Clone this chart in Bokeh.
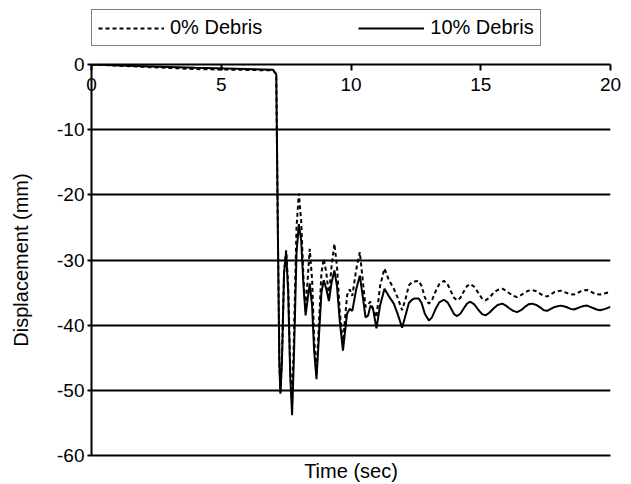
from bokeh.plotting import figure
from bokeh.layouts import column
from bokeh.models import (LinearAxis, Legend, LegendItem, Range1d, FixedTicker,
                          CustomJSTickFormatter)
from bokeh.embed import file_html
from bokeh.resources import INLINE

# ---- data ----
x_ticks = [0, 5, 10, 15, 20]
y_ticks = [0, -10, -20, -30, -40, -50, -60]

t = [0, 2, 4, 7.0, 7.12, 7.18, 7.24, 7.28, 7.34, 7.42, 7.50, 7.58, 7.66, 7.73,
     7.80, 7.90, 7.99, 8.08, 8.17, 8.25, 8.33, 8.41, 8.50, 8.58, 8.67, 8.76,
     8.86, 8.95, 9.05, 9.15, 9.25, 9.36, 9.46, 9.57, 9.69, 9.77, 9.85, 9.95,
     10.05, 10.20, 10.34, 10.45, 10.56, 10.66, 10.75, 10.85, 10.98, 11.12,
     11.29, 11.45, 11.65, 11.80, 11.97,
     12.10, 12.23, 12.35, 12.45, 12.61, 12.72, 12.85, 13.0, 13.12, 13.25, 13.4,
     13.58, 13.72, 13.85, 13.97, 14.09, 14.22, 14.35, 14.47, 14.6, 14.75, 14.9,
     15.05, 15.18, 15.33, 15.5, 15.65, 15.83, 15.97, 16.1, 16.25, 16.4, 16.55,
     16.7, 16.84, 16.98, 17.14, 17.3, 17.43, 17.56, 17.7, 17.85, 18.07, 18.2,
     18.35, 18.47, 18.59, 18.72, 18.85, 18.97, 19.1, 19.22, 19.35, 19.47, 19.6,
     19.8, 20.0]

debris_0 = [0, -0.35, -0.7, -0.9, -1.5, -25, -46, -50.3, -45, -32, -28.5, -34,
            -47, -52, -42, -25, -19.8, -24, -33, -37.5, -33, -28.3, -33, -42,
            -47.5, -40, -32, -29.8, -32, -35.5, -31, -27.5, -31, -38, -43, -39,
            -35.4, -34.5, -35.5, -31.5, -28.8, -33, -37.2, -36.8, -36.4, -37.5,
            -38.8, -34, -31.3, -33, -34.4, -35.8, -37.7,
            -36.0, -33.9, -33.4, -33.3, -33.2, -34.0, -35.8, -36.7, -36.2, -34.9,
            -33.7, -33.2, -33.7, -34.8, -35.8, -36.2, -35.8, -34.8, -34.0, -33.7,
            -34.1, -35.0, -35.9, -36.2, -35.8, -35.0, -34.6, -34.4, -34.7, -35.1,
            -35.5, -35.7, -35.4, -35.0, -34.7, -34.6, -34.8, -35.2, -35.5, -35.6,
            -35.3, -34.9, -34.7, -34.9, -35.1, -35.25, -35.3, -35.1, -34.8,
            -34.65, -34.6, -34.8, -35.1, -35.25, -35.3, -35.1, -34.9]

debris_10 = [0, -0.25, -0.5, -0.8, -1.5, -25, -46, -50.5, -45.5, -32, -28.8,
             -35, -48, -53.8, -45, -29, -24.5, -27, -34, -38.5, -36, -33.6, -37,
             -44, -48.3, -42, -35, -33.1, -34.5, -36.3, -33.5, -31.6, -34,
             -39.5, -43.9, -41, -38.2, -37.5, -37.8, -34.5, -32.4, -35.5, -38.8,
             -38.5, -37, -37.5, -40.5, -37, -34.4, -35.5, -36.7, -38.3, -40.4,
             -38.5, -36.6, -36.1, -35.9, -35.9, -36.6, -38.3, -39.3, -38.8, -37.6,
             -36.5, -36.1, -36.5, -37.4, -38.3, -38.6, -38.2, -37.4, -36.7, -36.4,
             -36.8, -37.6, -38.3, -38.5, -38.1, -37.4, -36.9, -36.7, -37.0, -37.4,
             -37.8, -38.0, -37.7, -37.2, -36.8, -36.7, -36.9, -37.3, -37.7, -37.8,
             -37.5, -37.2, -37.0, -37.1, -37.3, -37.5, -37.6, -37.4, -37.2,
             -37.05, -37.0, -37.2, -37.4, -37.6, -37.7, -37.5, -37.2]

series_labels = ["0% Debris", "10% Debris"]

FONT = "Liberation Sans"
DASH = "4 3"

# ---------------- main chart ----------------
p = figure(width=631, height=432, output_backend="svg", toolbar_location=None,
           x_range=Range1d(0, 20), y_range=Range1d(-60, 0),
           x_axis_location=None, y_axis_location="left",
           min_border_left=91, min_border_right=21, min_border_top=12,
           min_border_bottom=29, outline_line_color=None,
           background_fill_color="white", border_fill_color="white")

p.xgrid.visible = False
p.ygrid.ticker = FixedTicker(ticks=y_ticks[1:])
p.ygrid.grid_line_color = "black"
p.ygrid.grid_line_width = 2

plain = CustomJSTickFormatter(code="return tick.toString()")

ya = p.yaxis[0]
ya.ticker = FixedTicker(ticks=y_ticks)
ya.formatter = plain
ya.axis_line_width = 2
ya.major_tick_line_width = 2
ya.major_tick_out = 4
ya.major_tick_in = 0
ya.minor_tick_out = 0
ya.minor_tick_in = 0
ya.major_label_text_font = FONT
ya.major_label_text_font_size = "19px"
ya.major_label_text_color = "black"
ya.major_label_standoff = 3
ya.axis_label = "Displacement (mm)"
ya.axis_label_text_font = FONT
ya.axis_label_text_font_style = "normal"
ya.axis_label_text_font_size = "20px"
ya.axis_label_text_color = "black"
ya.axis_label_standoff = 22

# top axis at y = 0, ticks pointing down, labels just below the line
top = LinearAxis(ticker=FixedTicker(ticks=x_ticks), formatter=plain)
top.axis_line_width = 2
top.major_tick_line_width = 2
top.major_tick_in = 6
top.major_tick_out = 0
top.minor_tick_in = 0
top.minor_tick_out = 0
top.major_label_text_font = FONT
top.major_label_text_font_size = "19px"
top.major_label_text_color = "black"
top.major_label_standoff = -26
p.add_layout(top, "above")

# bottom axis: line at -60 and the title only
bot = LinearAxis(ticker=FixedTicker(ticks=[]))
bot.axis_line_width = 2
bot.major_tick_in = 0
bot.major_tick_out = 0
bot.minor_tick_in = 0
bot.minor_tick_out = 0
bot.axis_label = "Time (sec)"
bot.axis_label_text_font = FONT
bot.axis_label_text_font_style = "normal"
bot.axis_label_text_font_size = "20px"
bot.axis_label_text_color = "black"
bot.axis_label_standoff = 4
p.add_layout(bot, "below")

p.line(t, debris_0, line_color="black", line_width=2, line_dash=DASH)
p.line(t, debris_10, line_color="black", line_width=2)

# ---------------- legend strip above the chart ----------------
lg = figure(width=631, height=52, output_backend="svg", toolbar_location=None,
            x_range=Range1d(0, 20), y_range=Range1d(1000, 1001),
            x_axis_location=None, y_axis_location=None,
            min_border=0, outline_line_color=None,
            background_fill_color="white", border_fill_color="white")
lg.grid.visible = False
l0 = lg.line(t, debris_0, line_color="black", line_width=2, line_dash=DASH)
l1 = lg.line(t, debris_10, line_color="black", line_width=2)

legend = Legend(items=[LegendItem(label=series_labels[0], renderers=[l0]),
                       LegendItem(label=series_labels[1], renderers=[l1])],
                orientation="horizontal", location=(0, 6),
                glyph_width=66, glyph_height=20, label_standoff=6, spacing=96,
                padding=6, margin=0, border_line_color="black",
                border_line_width=1.5, label_text_font=FONT,
                label_text_color="black", label_text_font_size="20px",
                background_fill_alpha=1)
lg.add_layout(legend)

page = column(lg, p, spacing=0)
open("out.html", "w").write(file_html(page, INLINE))
